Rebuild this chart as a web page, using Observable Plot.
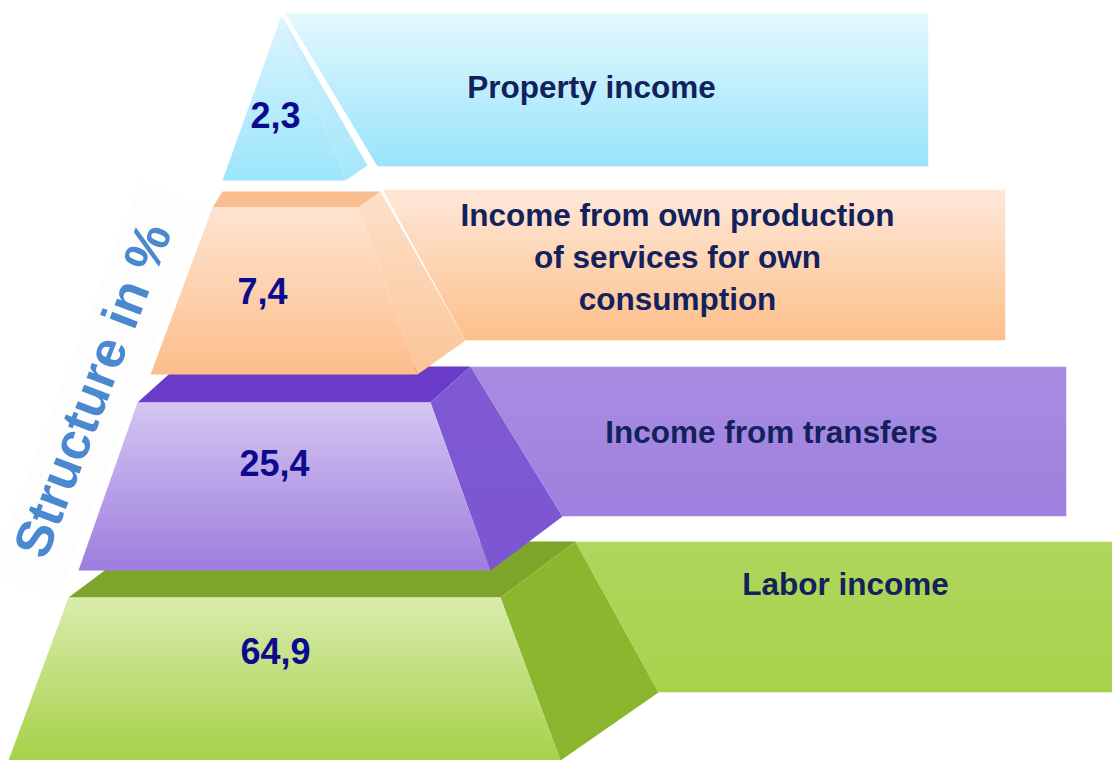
<!DOCTYPE html>
<html><head><meta charset="utf-8">
<script src="https://cdn.jsdelivr.net/npm/d3@7"></script>
<script src="https://cdn.jsdelivr.net/npm/@observablehq/plot@0.6"></script>
<style>
html,body{margin:0;padding:0;background:#fff;}
#chart svg{display:block;}
</style></head><body><div id="chart"></div>
<script>
// ---------- data ----------
const categories = [
  "Labor income",
  "Income from transfers",
  "Income from own production\nof services for own\nconsumption",
  "Property income"
];
const shares = [64.9, 25.4, 7.4, 2.3];
const axisTitle = "Structure in %";
const formatShare = v => v.toFixed(1).replace(".", ",");

// ---------- layout (pixel geometry of the 3D pyramid, bottom tier first) ----------
// front face: [topY, bottomY, topLeftX, topRightX, bottomLeftX, bottomRightX]
const tierFront = [
  [597, 760, 68, 500, 8, 560],
  [402, 570, 137, 430, 78, 490],
  [207, 374, 212, 358, 150, 417],
  [15, 180, 281, 281, 222, 345]
];
// top face back edge: [backLeftX, backRightX, backY]
const tierBack = [[143, 575, 541], [177, 470, 366], [222, 380, 191], [281, 281, 15]];
// side face lower-right corner
const tierSideFoot = [[658, 692], [562, 516], [465, 340], [367, 165]];
// banner: [leftTopX, topY, rightX, bottomY] and bottom-left x
const bannerBox = [[575, 541, 1112, 692], [470, 366, 1066, 516], [382, 189, 1005, 340], [285, 13, 928, 166]];
const bannerFootX = [658, 562, 465, 377];
const labelPos = [[845, 581], [771, 429], [677, 254], [591, 84]];
const valuePos = [[275, 652], [274, 464], [262, 292], [275, 116]];
const shadowed = [false, false, true, true];

// ---------- styles ----------
const frontGrad = [["#d9ecad", "#a6d148"], ["#d4c6f1", "#9d7dde"], ["#fee4d1", "#fcbe8b"], ["#dcf5fc", "#9ce5fb"]];
const topColor = ["#7ea52a", "#6a3bc8", "#f9bd90", null];
const sideGrad = [["#8cb72e", "#8ab52c"], ["#7f5ad4", "#7c56d2"], ["#fde0c9", "#fbc597"], ["#d3f2fb", "#a5e7fb"]];
const bannerGrad = [["#afd75c", "#a7d24c"], ["#a88ce2", "#9f80de"], ["#fee8d8", "#fdbf8b"], ["#e3f8fd", "#98e4fa"]];
const labelColor = "#13215c";
const valueColor = "#0b0b8f";
const titleColor = "#4a88d0";
const font = "'Liberation Sans', Arial, Helvetica, sans-serif";

const ns = "http://www.w3.org/2000/svg";
function gradientDefs() {
  const defs = document.createElementNS(ns, "defs");
  const add = (id, [c0, c1]) => {
    const g = document.createElementNS(ns, "linearGradient");
    g.setAttribute("id", id);
    g.setAttribute("x1", "0"); g.setAttribute("y1", "0");
    g.setAttribute("x2", "0"); g.setAttribute("y2", "1");
    [[0, c0], [1, c1]].forEach(([o, c]) => {
      const s = document.createElementNS(ns, "stop");
      s.setAttribute("offset", o);
      s.setAttribute("stop-color", c);
      g.appendChild(s);
    });
    defs.appendChild(g);
  };
  frontGrad.forEach((c, i) => add(`front${i}`, c));
  sideGrad.forEach((c, i) => add(`side${i}`, c));
  bannerGrad.forEach((c, i) => add(`banner${i}`, c));
  const f = document.createElementNS(ns, "filter");
  f.setAttribute("id", "blur");
  f.setAttribute("x", "-30%"); f.setAttribute("y", "-30%");
  f.setAttribute("width", "160%"); f.setAttribute("height", "160%");
  const gb = document.createElementNS(ns, "feGaussianBlur");
  gb.setAttribute("stdDeviation", "2.5");
  f.appendChild(gb);
  defs.appendChild(f);
  return defs;
}

const pts = arr => arr.map(([x, y]) => ({x, y}));
const poly = (p, opts) => Plot.line(pts(p), {x: "x", y: "y", curve: "linear-closed", stroke: "none", ...opts});
const shadow = (p, op = 0.32) => poly(p, {fill: "#000", fillOpacity: op, dx: 2, dy: 3, ariaLabel: "shadowcopy"});

// backdrop for the rotated title
const tCx = 93, tCy = 390, tAngDeg = -69, tAng = tAngDeg * Math.PI / 180, halfL = 210, halfH = 36;
const ux = Math.cos(tAng), uy = Math.sin(tAng), nx = -uy, ny = ux;
const titleBox = [[-1, -1], [1, -1], [1, 1], [-1, 1]].map(([a, b]) =>
  [tCx + 5 + a * halfL * ux + b * halfH * nx, tCy + a * halfL * uy + b * halfH * ny]);

const marks = [() => gradientDefs(), shadow(titleBox, 0.025), poly(titleBox, {fill: "#fdfdfd"})];

for (let i = 0; i < 4; i++) {
  const [ty, by, tlx, trx, blx, brx] = tierFront[i];
  const [bkl, bkr, bky] = tierBack[i];
  const [sfx, sfy] = tierSideFoot[i];
  const [bl, bt, br, bb] = bannerBox[i];
  const bfx = bannerFootX[i];
  const topP = [[tlx, ty], [trx, ty], [bkr, bky], [bkl, bky]];
  const bannerP = [[bl, bt], [br, bt], [br, bb], [bfx, bb]];
  const sideP = [[trx, ty], [bkr, bky], [sfx, sfy], [brx, by]];
  const frontP = [[tlx, ty], [trx, ty], [brx, by], [blx, by]];
  if (shadowed[i]) {
    marks.push(shadow(bannerP));
    marks.push(shadow(sideP));
    marks.push(shadow(frontP));
  }
  if (topColor[i]) marks.push(poly(topP, {fill: topColor[i]}));
  marks.push(poly(bannerP, {fill: `url(#banner${i})`, stroke: "#ffffff", strokeOpacity: 0.45, strokeWidth: 1}));
  marks.push(poly(sideP, {fill: `url(#side${i})`}));
  marks.push(poly(frontP, {fill: `url(#front${i})`}));
}

marks.push(Plot.text(categories, {
  x: (d, i) => labelPos[i][0], y: (d, i) => labelPos[i][1], text: d => d,
  fontSize: 31.5, fontWeight: "bold", fill: labelColor, lineHeight: 1.33, textAnchor: "middle", fontFamily: font
}));
marks.push(Plot.text(shares, {
  x: (d, i) => valuePos[i][0], y: (d, i) => valuePos[i][1], text: d => formatShare(d),
  fontSize: 36, fontWeight: "bold", fill: valueColor, textAnchor: "middle", fontFamily: font
}));
marks.push(Plot.text([axisTitle], {
  x: () => tCx, y: () => tCy, text: d => d, rotate: tAngDeg,
  fontSize: 52, fontWeight: "bold", fill: titleColor, textAnchor: "middle", fontFamily: font
}));

const chart = Plot.plot({
  width: 1112, height: 760, margin: 0,
  x: {domain: [0, 1112], axis: null},
  y: {domain: [0, 760], reverse: true, axis: null},
  style: {fontFamily: font, background: "#fff"},
  marks
});
chart.querySelectorAll('g[aria-label="shadowcopy"]').forEach(g => g.setAttribute("filter", "url(#blur)"));
document.getElementById("chart").appendChild(chart);
</script></body></html>
